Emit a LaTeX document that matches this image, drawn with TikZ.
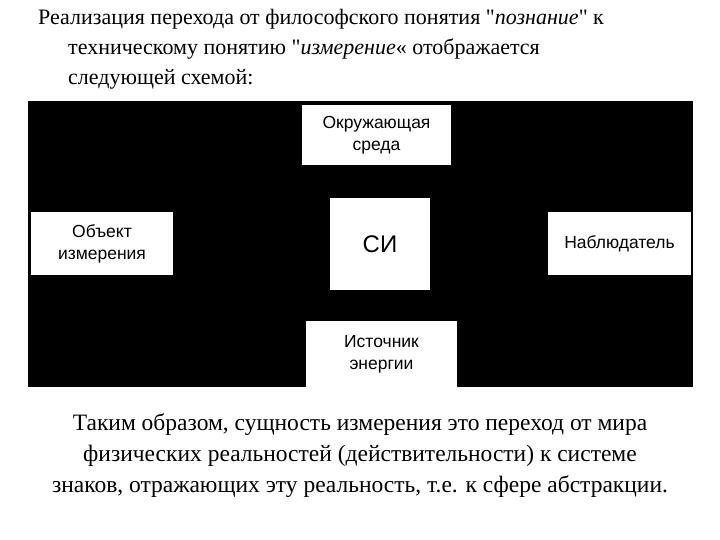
\documentclass[tikz,border=0pt]{standalone}
\usepackage{fontspec}
\setmainfont{Liberation Serif}[Ligatures=TeXOff]
\newfontfamily\arialf{Liberation Sans}
\begin{document}
\begin{tikzpicture}[x=1pt,y=-1pt,
  wbox/.style={fill=white,draw=none},
  lbl/.style={font=\arialf\fontsize{17.5}{22}\selectfont,align=center,text=black},
  txt/.style={font=\fontsize{22}{26}\selectfont,anchor=west,inner sep=0}]
\useasboundingbox (0,0) rectangle (720,540);
\fill[white] (0,0) rectangle (720,540);
\fill[black] (28,101) rectangle (693,387);
\fill[wbox] (302,105) rectangle (451,165);
\fill[wbox] (330,198) rectangle (430,290);
\fill[wbox] (31,212) rectangle (173,275);
\fill[wbox] (548,212) rectangle (691,275);
\fill[wbox] (306,321) rectangle (457,387);
\node[lbl] (env) at (376.5,135) {Окружающая\\среда};
\node[lbl,font=\arialf\fontsize{24}{28}\selectfont] (si) at (380,244) {СИ};
\node[lbl] (obj) at (102,243.5) {Объект\\измерения};
\node[lbl] (obs) at (619.5,243.5) {Наблюдатель};
\node[lbl] (src) at (381.5,354) {Источник\\энергии};
\node[txt] (t1) at (38,19) {Реализация перехода от философского понятия "\textit{познание}" к};
\node[txt] (t2) at (68,49) {техническому понятию "\textit{измерение}« отображается};
\node[txt] (t3) at (68,79) {следующей схемой:};
\node[font=\fontsize{23.5}{31}\selectfont,align=center] (b) at (360,456) {Таким образом, сущность измерения это переход от мира\\физических реальностей (действительности) к системе\\знаков, отражающих эту реальность, т.е. к сфере абстракции.};
\end{tikzpicture}
\end{document}
